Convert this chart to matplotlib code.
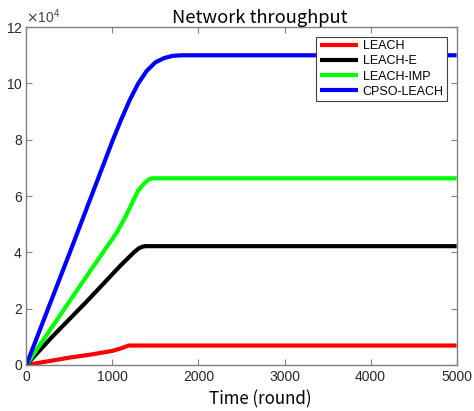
import numpy as np
import matplotlib.pyplot as plt
from matplotlib.ticker import ScalarFormatter

# (throughput in packets)
rounds_leach = [0, 250, 500, 750, 1000, 1100, 1190, 5000]
leach = [0, 1300, 2600, 3700, 5000, 5900, 6900, 6900]

rounds_leach_e = [0, 300, 700, 1100, 1250, 1310, 1350, 1380, 5000]
leach_e = [0, 10000, 22500, 35500, 40000, 41500, 42000, 42200, 42200]

rounds_leach_imp = [0, 300, 700, 1050, 1150, 1300, 1380, 1420, 1460, 5000]
leach_imp = [0, 13500, 31500, 47000, 52500, 62000, 64800, 65800, 66300, 66300]

rounds_cpso = [0, 500, 1000, 1100, 1200, 1300, 1400, 1500, 1600, 1700, 1800, 5000]
cpso = [0, 39500, 79500, 87000, 94000, 100000, 104500, 107500, 109000, 109800, 110000, 110000]

series = [
    ("LEACH", rounds_leach, leach, "#ff0000"),
    ("LEACH-E", rounds_leach_e, leach_e, "#000000"),
    ("LEACH-IMP", rounds_leach_imp, leach_imp, "#00ff00"),
    ("CPSO-LEACH", rounds_cpso, cpso, "#0000ff"),
]
x_ticks = [0, 1000, 2000, 3000, 4000, 5000]
y_ticks = [0, 20000, 40000, 60000, 80000, 100000, 120000]

plt.rcParams['font.family'] = ['Liberation Sans', 'DejaVu Sans']
cjk = ["Noto Sans CJK SC", "DejaVu Sans"]

fig = plt.figure(figsize=(4.74, 4.11), dpi=100)
ax = fig.add_axes([0.0555, 0.112, 0.908, 0.822])

for name, xs, ys, color in series:
    ax.plot(xs, ys, color=color, lw=3, label=name,
            solid_joinstyle="round", solid_capstyle="butt")

ax.set_xlim(0, 5000)
ax.set_ylim(0, 120000)
ax.set_xticks(x_ticks)
ax.set_yticks(y_ticks)

fmt = ScalarFormatter(useMathText=True)
fmt.set_powerlimits((4, 4))
ax.yaxis.set_major_formatter(fmt)

gray = "#808080"
for sp in ax.spines.values():
    sp.set_color(gray)
    sp.set_linewidth(1.0)
ax.tick_params(direction="in", top=True, right=True, length=4, color=gray,
               labelsize=10, labelcolor="#262626", pad=2.5)
ax.tick_params(axis="x", pad=3.5)
ax.yaxis.get_offset_text().set_fontsize(10)
ax.yaxis.get_offset_text().set_color("#404040")

ax.set_title("Network throughput", fontsize=13.2, family=cjk, pad=3, x=0.543)
ax.set_xlabel("Time (round)", fontsize=12.2, family=cjk, labelpad=5)
ax.xaxis.label.set_x(0.543)

leg = ax.legend(loc="upper right", fontsize=9, handlelength=3.0, borderaxespad=0.75,
                fancybox=False, framealpha=1, edgecolor="#404040",
                labelspacing=0.25, handletextpad=0.4, borderpad=0.3)
leg.get_frame().set_linewidth(0.8)

fig.savefig("out.png", dpi=100)
